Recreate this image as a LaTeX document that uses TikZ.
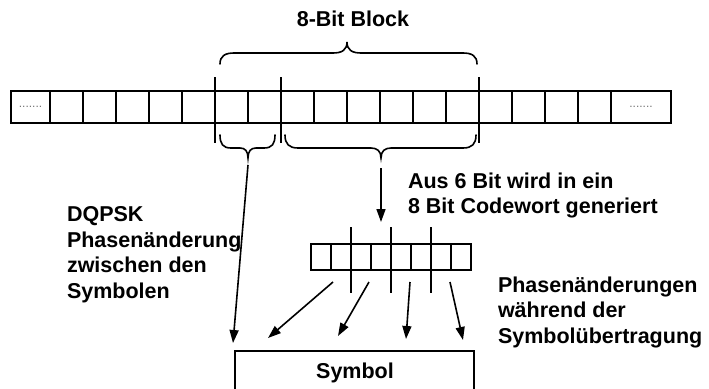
\documentclass[tikz,border=0pt]{standalone}
\usepackage{fontspec}
\setmainfont{Liberation Sans}
\usetikzlibrary{arrows.meta}
\begin{document}
\begin{tikzpicture}[x=1pt,y=-1pt,
  cell/.style={draw,line width=1.6pt,minimum height=32pt,inner sep=0pt,outer sep=0pt,anchor=north west},
  scell/.style={draw,line width=1.6pt,minimum height=26pt,minimum width=20pt,inner sep=0pt,outer sep=0pt,anchor=north west},
  dots/.style={font=\fontsize{12}{12}\selectfont,text=black!55},
  sepline/.style={line width=2pt},
  bracepath/.style={line width=1.6pt,line cap=round},
  arr/.style={line width=1.6pt,-{Triangle[length=13pt,width=9pt]}},
  lbl/.style={font=\fontsize{21.5}{25.5}\selectfont\bfseries,inner sep=0pt,outer sep=0pt,align=left,anchor=north west},
  clbl/.style={font=\fontsize{21.5}{25.5}\selectfont\bfseries,inner sep=0pt,outer sep=0pt,anchor=base}]
\useasboundingbox (0,0) rectangle (709,388);

% --- long bit row ---
\node[cell,minimum width=39pt] (c0) at (11,91) {};
\node[dots] at (c0.center) {.......};
\foreach \i in {1,...,17}{
  \node[cell,minimum width=33pt] (c\i) at ({50+33*(\i-1)},91) {};
}
\node[cell,minimum width=60pt] (c18) at (611,91) {};
\node[dots] at (c18.center) {.......};

% --- separator lines on the long row ---
\coordinate (s1t) at (215,77); \coordinate (s1b) at (215,143);
\coordinate (s2t) at (281,77); \coordinate (s2b) at (281,143);
\coordinate (s3t) at (479,77); \coordinate (s3b) at (479,143);
\draw[sepline] (s1t) -- (s1b);
\draw[sepline] (s2t) -- (s2b);
\draw[sepline] (s3t) -- (s3b);

% --- top brace and label ---
\node[clbl] (blk) at (353,27) {8-Bit Block};
\coordinate (tbl) at (220,64);
\coordinate (tbtip) at (347,42);
\coordinate (tbr) at (477,64);
\draw[bracepath] (tbl) .. controls (220,56) and (225,53) .. (234,53) -- (333,53)
  .. controls (342,53) and (347,50) .. (tbtip)
  .. controls (347,50) and (352,53) .. (361,53) -- (463,53)
  .. controls (472,53) and (477,56) .. (tbr);

% --- lower small brace ---
\coordinate (sbl) at (220,135);
\coordinate (sbtip) at (248,158);
\coordinate (sbr) at (275,135);
\draw[bracepath] (sbl) .. controls (220,144) and (223,148) .. (231,148) -- (240,148)
  .. controls (245,148) and (248,151) .. (sbtip)
  .. controls (248,151) and (251,148) .. (256,148) -- (264,148)
  .. controls (272,148) and (275,144) .. (sbr);

% --- lower big brace ---
\coordinate (bbl) at (285,135);
\coordinate (bbtip) at (381,158);
\coordinate (bbr) at (476,135);
\draw[bracepath] (bbl) .. controls (285,144) and (289,148) .. (298,148) -- (371,148)
  .. controls (377,148) and (381,151) .. (bbtip)
  .. controls (381,151) and (385,148) .. (391,148) -- (463,148)
  .. controls (472,148) and (476,144) .. (bbr);

% --- small 8-bit code word ---
\foreach \i in {0,...,7}{
  \node[scell] (k\i) at ({311+20*\i},244) {};
}
\coordinate (t1t) at (351,227); \coordinate (t1b) at (351,293);
\coordinate (t2t) at (391,227); \coordinate (t2b) at (391,293);
\coordinate (t3t) at (431,227); \coordinate (t3b) at (431,293);
\draw[sepline] (t1t) -- (t1b);
\draw[sepline] (t2t) -- (t2b);
\draw[sepline] (t3t) -- (t3b);

% --- symbol box ---
\draw[line width=1.6pt] (235,400) -- (235,351) -- (474,351) -- (474,400);
\node[clbl] (sym) at (355,378) {Symbol};

% --- arrows ---
\coordinate (a0s) at (248,165); \coordinate (a0e) at (233,343);
\coordinate (a1s) at (381,168); \coordinate (a1e) at (381,222);
\coordinate (b1s) at (333,282); \coordinate (b1e) at (268,338);
\coordinate (b2s) at (369,282); \coordinate (b2e) at (338,336);
\coordinate (b3s) at (410,282); \coordinate (b3e) at (406,339);
\coordinate (b4s) at (450,282); \coordinate (b4e) at (463,340);
\draw[arr] (a0s) -- (a0e);
\draw[arr] (a1s) -- (a1e);
\draw[arr] (b1s) -- (b1e);
\draw[arr] (b2s) -- (b2e);
\draw[arr] (b3s) -- (b3e);
\draw[arr] (b4s) -- (b4e);

% --- texts ---
\node[lbl] (aus) at (408,172.5) {Aus 6 Bit wird in ein\\8 Bit Codewort generiert};
\node[lbl] (dq) at (67,206.5) {DQPSK\\Phasenänderung\\zwischen den\\Symbolen};
\node[lbl] (ph) at (498,276.5) {Phasenänderungen\\während der\\Symbolübertragung};
\end{tikzpicture}
\end{document}
